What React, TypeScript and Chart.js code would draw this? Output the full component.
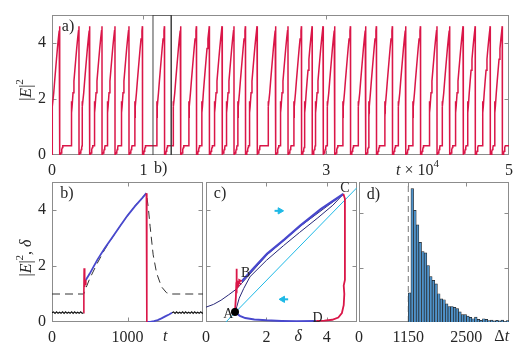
import React, { useEffect, useRef } from 'react';
import { Chart, registerables } from 'chart.js';
Chart.register(...registerables);

const FONT = "'Liberation Serif', 'DejaVu Serif', serif";
const FS = 16;
const RED = 'rgb(218,22,72)';
const BLUE = 'rgb(72,72,205)';
const NAVY = 'rgb(40,40,120)';
const CYAN = 'rgb(30,185,230)';
const FRAME = 'rgb(140,140,140)';
const TXT = 'rgb(38,38,38)';

// ---------- Panel a: |E|^2 time series (t in units of 10^4) ----------
const aPeakTimes = [0.084, 0.295, 0.412, 0.547, 0.689, 0.842, 0.989, 1.23, 1.408, 1.58, 1.721, 1.86, 1.991, 2.116, 2.243, 2.447, 2.582, 2.729, 2.846, 2.965, 3.093, 3.265, 3.432, 3.549, 3.724, 3.87, 4.031, 4.212, 4.351, 4.497, 4.63, 4.794, 4.926];
const aPlateau = 0.33;
const aBox = [1.105, 1.305];
const aXTicks = [0, 1, 3, 5];
const aYTicks = [0, 2, 4];

// ---------- Panel b: zoom of one pulse (t) ----------
const bPeakT = 1250;
const bBlackLeft = [[0, 0.33], [20, 0.36], [40, 0.31], [60, 0.36], [80, 0.31], [100, 0.35], [120, 0.31], [140, 0.36], [160, 0.31], [180, 0.36], [200, 0.31], [220, 0.35], [240, 0.31], [260, 0.36], [280, 0.31], [300, 0.36], [320, 0.31], [340, 0.35], [360, 0.31], [380, 0.36], [400, 0.31], [420, 0.33]];
const bBlackRight = [[1590, 0.33], [1610, 0.36], [1630, 0.31], [1650, 0.36], [1670, 0.31], [1690, 0.35], [1710, 0.31], [1730, 0.36], [1750, 0.31], [1770, 0.36], [1790, 0.31], [1810, 0.35], [1830, 0.31], [1850, 0.36], [1870, 0.31], [1890, 0.36], [1910, 0.31], [1930, 0.35], [1950, 0.31], [1970, 0.36], [1990, 0.31], [2000, 0.33]];
const bRedRise = [[420, 0.33], [422, 1.0], [426, 1.92], [430, 1.25], [436, 1.55], [442, 1.35], [448, 1.5]];
const bBlueRise = [[448, 1.5], [500, 1.73], [600, 2.22], [700, 2.64], [800, 3.03], [900, 3.42], [1000, 3.8], [1100, 4.14], [1200, 4.44], [1250, 4.6]];
const bRedDrop = [[1250, 4.6], [1256, 0.0]];
const bBlueRecovery = [[1256, 0.0], [1300, 0.0], [1350, 0.03], [1400, 0.07], [1450, 0.13], [1500, 0.2], [1550, 0.27], [1590, 0.33]];
const bDelta = [[0, 1], [420, 1], [440, 1.15], [500, 1.55], [600, 2.1], [700, 2.6], [800, 3.02], [900, 3.42], [1000, 3.8], [1100, 4.15], [1200, 4.45], [1250, 4.6], [1275, 4.1], [1300, 3.4], [1340, 2.4], [1385, 1.75], [1450, 1.26], [1515, 1.05], [1560, 1.0], [2000, 1.0]];
const bXTicks = [0, 1000];
const bYTicks = [0, 2, 4];

// ---------- Panel c: phase portrait (delta, |E|^2) ----------
const cCyan = [[0.66, 0], [5.0, 4.8]];
const cThinUpper = [[0, 0.53], [0.25, 0.63], [0.5, 0.78], [0.75, 0.97], [1.0, 1.17], [1.18, 1.38], [2.02, 2.4], [3.12, 3.42], [4.55, 4.57]];
const cThinLower = [[0.97, 0.36], [1.02, 0.55], [1.1, 0.85], [1.25, 1.2], [1.46, 1.62], [2.0, 2.2], [2.57, 2.73], [3.1, 3.2], [3.68, 3.7], [4.2, 4.17], [4.55, 4.57]];
const cThickBlue = [[1.18, 1.45], [1.6, 1.95], [2.02, 2.43], [2.6, 2.95], [3.12, 3.44], [3.8, 4.03], [4.55, 4.57]];
const cRedLeft = [[0.96, 0.36], [0.99, 0.9], [1.0, 1.25], [1.01, 1.9], [1.02, 1.2], [1.08, 1.3], [1.04, 1.45], [1.12, 1.38], [1.1, 1.5], [1.18, 1.45]];
const cRedRight = [[4.55, 4.57], [4.6, 4.4], [4.6, 3.0], [4.6, 1.5], [4.56, 1.3], [4.58, 1.0], [4.56, 0.6], [4.5, 0.32], [4.38, 0.16], [4.18, 0.08], [3.92, 0.05], [3.65, 0.04]];
const cBlueBottom = [[3.65, 0.04], [3.0, 0.03], [2.5, 0.04], [2.0, 0.06], [1.6, 0.09], [1.3, 0.14], [1.12, 0.22], [1.02, 0.3], [0.96, 0.36]];
const cPointA = [0.96, 0.36];
const cArrowRight = [[2.27, 3.97], [2.45, 3.97]];
const cArrowLeft = [[2.72, 0.81], [2.54, 0.81]];
const cLabels = [['A', 0.74, 0.27], ['B', 1.31, 1.75], ['C', 4.6, 4.78], ['D', 3.69, 0.12]];
const cXTicks = [0, 2, 4];
const cYTicks = [0, 2, 4];

// ---------- Panel d: histogram of inter-pulse intervals ----------
const dBinStart = 1150;
const dBinWidth = 61.8;
const dHeights = [1.07, 4.91, 4.11, 3.57, 2.93, 2.59, 2.54, 2.08, 1.67, 1.53, 1.4, 1.04, 0.85, 0.82, 0.67, 0.57, 0.57, 0.54, 0.49, 0.37, 0.27, 0.27, 0.22, 0.17, 0.12, 0.18, 0.1, 0.06, 0.12, 0.1, 0.05, 0.07, 0.04, 0.06, 0.04, 0.07, 0.02, 0.05];
const dThreshold = 1150;
const dXTicks = [0, 1150, 2500];
const dYTicks = [2, 4];

// ---------- geometry (page px) ----------
type Box = { cl: number; ct: number; cw: number; ch: number; l: number; t: number; r: number; b: number };
const G: Record<string, Box> = {
  a: { cl: 0, ct: 0, cw: 528, ch: 182, l: 52, t: 15, r: 509, b: 155 },
  b: { cl: 0, ct: 170, cw: 206, ch: 183, l: 52, t: 182, r: 203, b: 322 },
  c: { cl: 186, ct: 170, cw: 176, ch: 183, l: 206, t: 182, r: 357, b: 322 },
  d: { cl: 340, ct: 170, cw: 188, ch: 183, l: 359, t: 182, r: 509, b: 322 },
};

type Seg = { t: string; it?: boolean; sup?: boolean };
const segFont = (s: Seg, size: number) => `${s.it ? 'italic ' : ''}${s.sup ? Math.round(size * 0.7) : size}px ${FONT}`;
function drawRich(ctx: CanvasRenderingContext2D, segs: Seg[], x: number, y: number, align: string, size: number, rot = 0) {
  ctx.save();
  ctx.translate(x, y);
  if (rot) ctx.rotate(rot);
  let w = 0;
  const ws = segs.map((s) => { ctx.font = segFont(s, size); const m = ctx.measureText(s.t).width; w += m; return m; });
  let cx = align === 'center' ? -w / 2 : align === 'right' ? -w : 0;
  ctx.fillStyle = TXT;
  ctx.textBaseline = 'middle';
  ctx.textAlign = 'left';
  segs.forEach((s, i) => { ctx.font = segFont(s, size); ctx.fillText(s.t, cx, s.sup ? -size * 0.4 : 0); cx += ws[i]; });
  ctx.restore();
}

const framePlugin = {
  id: 'frame',
  beforeDatasetsDraw(chart: any) {
    const { ctx, chartArea: a, scales } = chart;
    ctx.save();
    ctx.strokeStyle = FRAME;
    ctx.lineWidth = 1;
    ctx.strokeRect(a.left + 0.5, a.top + 0.5, a.right - a.left - 1, a.bottom - a.top - 1);
    const tl = 4.5;
    ctx.beginPath();
    for (const t of scales.x.ticks) {
      if (t.value <= scales.x.min || t.value >= scales.x.max) continue;
      const p = Math.round(scales.x.getPixelForValue(t.value)) + 0.5;
      ctx.moveTo(p, a.bottom); ctx.lineTo(p, a.bottom - tl);
      ctx.moveTo(p, a.top); ctx.lineTo(p, a.top + tl);
    }
    for (const t of scales.y.ticks) {
      if (t.value <= scales.y.min || t.value >= scales.y.max) continue;
      const p = Math.round(scales.y.getPixelForValue(t.value)) + 0.5;
      ctx.moveTo(a.left, p); ctx.lineTo(a.left + tl, p);
      ctx.moveTo(a.right, p); ctx.lineTo(a.right - tl, p);
    }
    ctx.stroke();
    ctx.restore();
  },
};

type Item = { segs: Seg[]; x: number; y: number; xd?: boolean; yd?: boolean; yb?: boolean; align?: string; rot?: number; size?: number };
const textPlugin = {
  id: 'texts',
  afterDraw(chart: any, _args: any, opts: any) {
    const { ctx, chartArea, scales } = chart;
    const [ox, oy] = opts.origin;
    for (const it of opts.items as Item[]) {
      const px = it.xd ? scales.x.getPixelForValue(it.x) : it.x - ox;
      const py = it.yb ? chartArea.bottom + it.y : it.yd ? scales.y.getPixelForValue(it.y) : it.y - oy;
      drawRich(ctx, it.segs, px, py, it.align || 'center', it.size || FS, it.rot || 0);
    }
  },
};

function scale(axis: 'x' | 'y', min: number, max: number, ticks: number[], show: boolean, g: Box) {
  return {
    type: 'linear', min, max, offset: false,
    grid: { display: false, drawTicks: false },
    border: { display: false },
    afterBuildTicks: (s: any) => { s.ticks = ticks.map((v) => ({ value: v })); },
    afterFit: (s: any) => {
      if (axis === 'x') { s.height = g.ct + g.ch - g.b; s.paddingLeft = 0; s.paddingRight = 0; }
      else { s.width = g.l - g.cl; s.paddingTop = 0; s.paddingBottom = 0; }
    },
    ticks: {
      autoSkip: false, maxRotation: 0, minRotation: 0, padding: axis === 'x' ? 6 : 6, color: TXT,
      font: { family: FONT, size: FS },
      callback: (v: any) => (show ? String(v) : ''),
    },
  };
}

function baseOptions(g: Box, xs: any, ys: any, items: Item[]) {
  return {
    responsive: false, animation: false, devicePixelRatio: 1,
    layout: { padding: { top: g.t - g.ct, right: g.cl + g.cw - g.r, left: 0, bottom: 0 }, autoPadding: false },
    scales: { x: xs, y: ys },
    plugins: { legend: { display: false }, tooltip: { enabled: false }, texts: { origin: [g.cl, g.ct], items } },
    elements: { point: { radius: 0 } },
  };
}

const pts = (arr: number[][]) => arr.map(([x, y]) => ({ x, y }));
const line = (data: number[][], color: string, width: number, order: number, extra: any = {}) => ({
  type: 'line', data: pts(data), borderColor: color, backgroundColor: color, borderWidth: width,
  pointRadius: 0, fill: false, tension: 0, order, ...extra,
});

const E2: Seg[] = [{ t: '|' }, { t: 'E', it: true }, { t: '|' }, { t: '2', sup: true }];

function makeA(cv: HTMLCanvasElement) {
  const g = G.a;
  const template = [...bRedRise, ...bBlueRise, ...bRedDrop, ...bBlueRecovery].map(([t, v]) => [(t - bPeakT) / 1e4, v]);
  const series: number[][] = [[0, 0]];
  aPeakTimes.forEach((p) => template.forEach(([dt, v]) => { if (p + dt >= 0) series.push([p + dt, v]); }));
  series.push([5, aPlateau]);
  const box = [[aBox[0], 0], [aBox[0], 5], [aBox[1], 5], [aBox[1], 0]];
  const items: Item[] = [
    { segs: E2, x: 26.5, y: 90, rot: -Math.PI / 2 },
    { segs: [{ t: 'a)' }], x: 68, y: 27 },
    { segs: [{ t: 't', it: true }, { t: ' × 10' }, { t: '4', sup: true }], x: 4, y: 15.5, xd: true, yb: true },
    { segs: [{ t: 'b)' }], x: 1.19, y: 13.5, xd: true, yb: true },
  ];
  return new Chart(cv, {
    type: 'line',
    data: { datasets: [line(series, RED, 1.5, 1), line(box, '#444', 1, 0)] as any },
    options: baseOptions(g, scale('x', 0, 5, aXTicks, true, g), scale('y', 0, 5, aYTicks, true, g), items) as any,
    plugins: [framePlugin, textPlugin],
  });
}

function makeB(cv: HTMLCanvasElement) {
  const g = G.b;
  const items: Item[] = [
    { segs: [...E2, { t: ', ' }, { t: 'δ', it: true }], x: 26.5, y: 258, rot: -Math.PI / 2 },
    { segs: [{ t: 'b)' }], x: 67, y: 193.5 },
    { segs: [{ t: 't', it: true }], x: 1500, y: 15, xd: true, yb: true },
  ];
  return new Chart(cv, {
    type: 'line',
    data: {
      datasets: [
        line(bDelta, '#333', 1, 5, { borderDash: [8, 5] }),
        line(bBlackLeft, '#111', 1.2, 2),
        line(bBlackRight, '#111', 1.2, 2),
        line(bBlueRise, BLUE, 1.8, 1),
        line(bBlueRecovery, BLUE, 1.8, 1),
        line(bRedRise, RED, 1.6, 0),
        line(bRedDrop, RED, 1.6, 0),
      ] as any,
    },
    options: baseOptions(g, scale('x', 0, 2000, bXTicks, true, g), scale('y', 0, 5, bYTicks, true, g), items) as any,
    plugins: [framePlugin, textPlugin],
  });
}

function makeC(cv: HTMLCanvasElement) {
  const g = G.c;
  const items: Item[] = [
    { segs: [{ t: 'c)' }], x: 220, y: 193.5 },
    { segs: [{ t: 'δ', it: true }], x: 3.05, y: 15, xd: true, yb: true },
    ...cLabels.map(([s, x, y]) => ({ segs: [{ t: s as string }], x: x as number, y: y as number, xd: true, yd: true, size: 14 })),
  ];
  const arrow = (d: number[][], rot: number) => line(d, CYAN, 2, 0, {
    pointRadius: [0, 3.6], pointStyle: 'triangle', pointRotation: rot, pointBackgroundColor: CYAN, pointBorderColor: CYAN, pointBorderWidth: 1,
  });
  return new Chart(cv, {
    type: 'line',
    data: {
      datasets: [
        line(cCyan, CYAN, 1, 6),
        line(cThinUpper, NAVY, 1, 5),
        line(cThinLower, NAVY, 1, 5),
        line(cThickBlue, BLUE, 2.3, 3),
        line(cBlueBottom, BLUE, 2, 3),
        line(cRedLeft, RED, 1.8, 2),
        line(cRedRight, RED, 1.8, 2),
        { type: 'scatter', data: pts([cPointA]), pointRadius: 3.6, backgroundColor: '#000', borderColor: '#000', order: 0 },
        arrow(cArrowRight, 90),
        arrow(cArrowLeft, -90),
      ] as any,
    },
    options: baseOptions(g, scale('x', 0, 5, cXTicks, true, g), scale('y', 0, 5, cYTicks, false, g), items) as any,
    plugins: [framePlugin, textPlugin],
  });
}

function makeD(cv: HTMLCanvasElement) {
  const g = G.d;
  const bars = dHeights.map((h, i) => ({ x: dBinStart + (i + 0.5) * dBinWidth, y: h }));
  const items: Item[] = [
    { segs: [{ t: 'd)' }], x: 373.5, y: 195 },
    { segs: [{ t: 'Δ' }, { t: 't', it: true }], x: 3330, y: 15, xd: true, yb: true },
  ];
  return new Chart(cv, {
    type: 'bar',
    data: {
      datasets: [
        { type: 'bar', data: bars, backgroundColor: 'rgb(78,146,202)', borderColor: '#222', borderWidth: 0.7, barPercentage: 1, categoryPercentage: 1, grouped: false, order: 0 },
        line([[dThreshold, 0], [dThreshold, 5.15]], '#777', 1, 1, { borderDash: [6, 4] }),
      ] as any,
    },
    options: baseOptions(g, scale('x', 0, 3500, dXTicks, true, g), scale('y', 0, 5.15, dYTicks, false, g), items) as any,
    plugins: [framePlugin, textPlugin],
  });
}

export default function App() {
  const ra = useRef<HTMLCanvasElement>(null);
  const rb = useRef<HTMLCanvasElement>(null);
  const rc = useRef<HTMLCanvasElement>(null);
  const rd = useRef<HTMLCanvasElement>(null);
  useEffect(() => {
    const charts = [makeA(ra.current!), makeB(rb.current!), makeC(rc.current!), makeD(rd.current!)];
    return () => charts.forEach((c) => c.destroy());
  }, []);
  const cv = (ref: any, g: Box) => (
    <canvas ref={ref} width={g.cw} height={g.ch} style={{ position: 'absolute', left: g.cl, top: g.ct, width: g.cw, height: g.ch }} />
  );
  return (
    <div style={{ position: 'fixed', left: 0, top: 0, width: 528, height: 353, background: '#fff', overflow: 'hidden' }}>
      {cv(ra, G.a)}
      {cv(rb, G.b)}
      {cv(rc, G.c)}
      {cv(rd, G.d)}
    </div>
  );
}
